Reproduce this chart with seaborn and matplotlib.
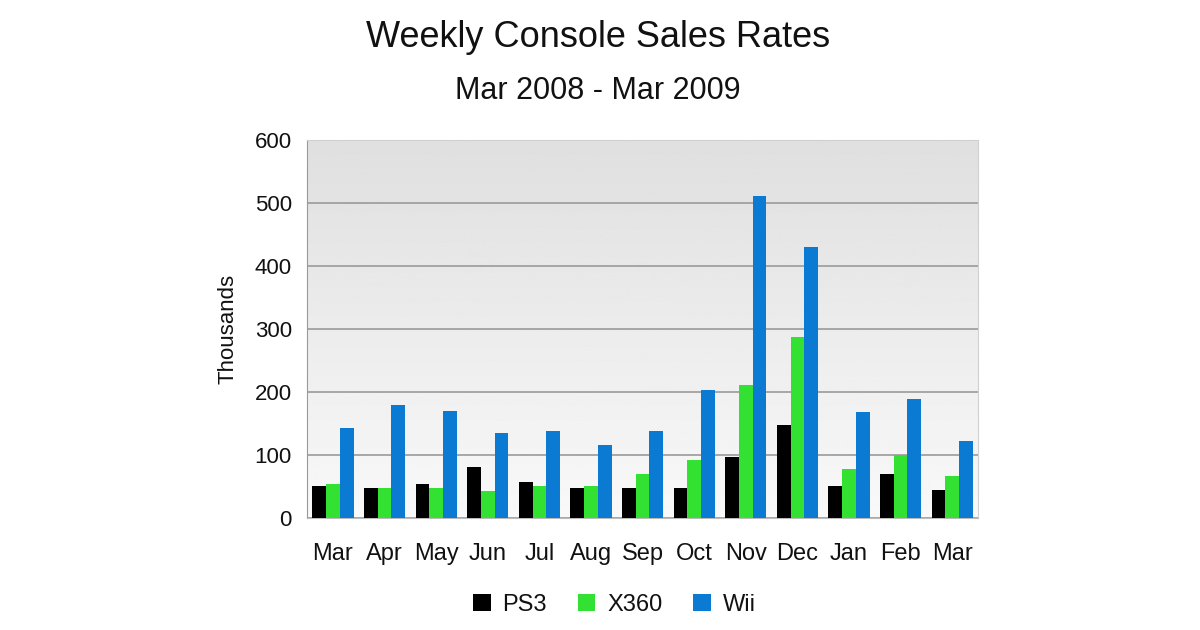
import numpy as np
import pandas as pd
import matplotlib
matplotlib.use('Agg')
import matplotlib.pyplot as plt
import seaborn as sns

# Values (thousands per week)
months = ['Mar', 'Apr', 'May', 'Jun', 'Jul', 'Aug', 'Sep',
          'Oct', 'Nov', 'Dec', 'Jan', 'Feb', 'Mar ']
ps3 = [50, 47, 53, 81, 57, 47, 47, 48, 96, 147, 50, 69, 44]
x360 = [53, 47, 47, 43, 50, 50, 70, 92, 211, 287, 77, 99, 67]
wii = [143, 179, 169, 134, 138, 115, 138, 203, 511, 430, 168, 188, 122]
consoles = ['PS3', 'X360', 'Wii']
colors = ['#000000', '#33e133', '#0b7ad3']

# Long format for seaborn
df = pd.DataFrame({
    'month': months * 3,
    'console': ['PS3'] * 13 + ['X360'] * 13 + ['Wii'] * 13,
    'value': ps3 + x360 + wii,
})

sns.set_style('white')
plt.rcParams['font.family'] = ['Liberation Sans', 'DejaVu Sans']
plt.rcParams['text.color'] = '#111111'
plt.rcParams['axes.labelcolor'] = '#111111'
plt.rcParams['xtick.color'] = '#111111'
plt.rcParams['ytick.color'] = '#111111'

fig = plt.figure(figsize=(12, 6.3), dpi=100)
ax = fig.add_axes([0.256, 0.178, 0.559, 0.6])

# gray gradient background of the plot area (darker at the top)
grad = np.linspace(0.975, 0.875, 256).reshape(-1, 1)
ax.imshow(grad, cmap='gray', vmin=0, vmax=1, aspect='auto',
          extent=[0, 1, 0, 1], origin='lower', transform=ax.transAxes, zorder=0)

sns.barplot(data=df, x='month', y='value', hue='console', order=months,
            hue_order=consoles, palette=colors, width=0.8, gap=0,
            saturation=1, linewidth=0, ax=ax, zorder=3)

ax.set_ylim(0, 600)
ax.set_xlim(-0.5, 12.5)
ax.set_yticks(range(0, 601, 100))
ax.yaxis.grid(True, color='#9a9a9a', linewidth=1.2)
for ln in ax.get_ygridlines():
    ln.set_zorder(1)

ax.set_xlabel('')
ax.set_ylabel('Thousands', fontsize=16, labelpad=12)
ax.set_xticks(range(13))
ax.set_xticklabels([m.strip() for m in months], fontsize=17)
ax.tick_params(axis='x', length=0, pad=18)
ax.set_xticks(np.arange(-0.5, 13, 1), minor=True)
ax.tick_params(axis='x', which='minor', length=7, color='#bbbbbb', direction='out')
ax.tick_params(axis='y', labelsize=16, length=8, color='#aaaaaa', pad=3)

for side in ['top', 'right']:
    ax.spines[side].set_color('#d0d0d0')
ax.spines['left'].set_color('#999999')
ax.spines['bottom'].set_color('#bbbbbb')

fig.text(0.498, 0.94, 'Weekly Console Sales Rates', ha='center', va='center', fontsize=26)
fig.text(0.498, 0.855, 'Mar 2008 - Mar 2009', ha='center', va='center', fontsize=22)

handles, labels = ax.get_legend_handles_labels()
ax.get_legend().remove()
fig.legend(handles, labels, loc='center', bbox_to_anchor=(0.512, 0.04), ncol=3,
           frameon=False, fontsize=17, handlelength=0.75, handleheight=0.75,
           handletextpad=0.5, columnspacing=1.3)

fig.savefig('out.png', dpi=100, facecolor='white')
